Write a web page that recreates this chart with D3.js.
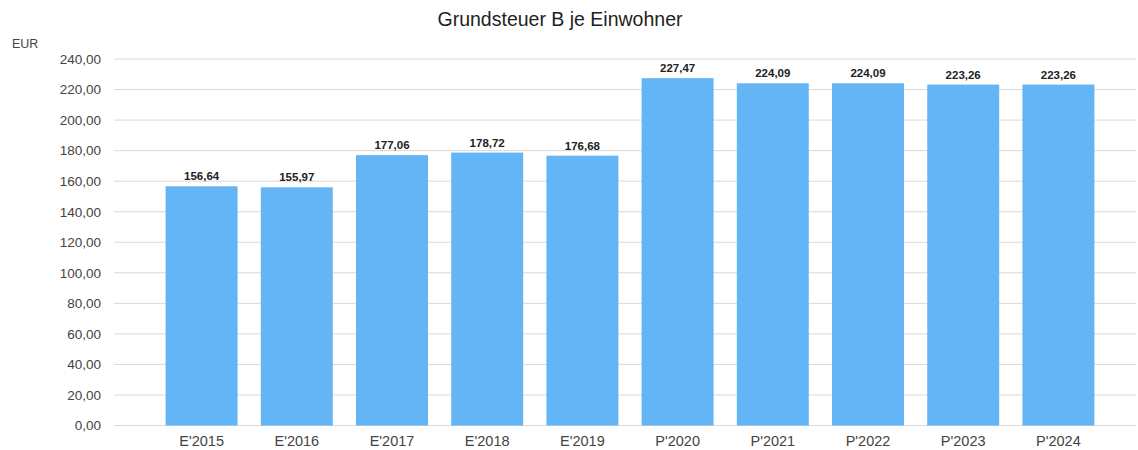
<!DOCTYPE html>
<html>
<head>
<meta charset="utf-8">
<script src="https://cdn.jsdelivr.net/npm/d3@7"></script>
<style>
  body { margin: 0; background: #fff; }
  svg { display: block; font-family: "Liberation Sans", Arial, sans-serif; }
</style>
</head>
<body>
<svg id="chart" width="1138" height="450"></svg>
<script>
const categories = ["E'2015", "E'2016", "E'2017", "E'2018", "E'2019", "P'2020", "P'2021", "P'2022", "P'2023", "P'2024"];
const values = [156.64, 155.97, 177.06, 178.72, 176.68, 227.47, 224.09, 224.09, 223.26, 223.26];
const yTicks = [0, 20, 40, 60, 80, 100, 120, 140, 160, 180, 200, 220, 240];

const gridLeft = 114, gridRight = 1136;
const bandLeft = 154, bandRight = 1106;
const plotTop = 59, plotBottom = 425.5;

const fmt = v => d3.format(".2f")(v).replace(".", ",");

const svg = d3.select("#chart");

const x = d3.scaleBand()
    .domain(categories)
    .range([bandLeft, bandRight])
    .paddingInner(0.244)
    .paddingOuter(0.122);

const y = d3.scaleLinear()
    .domain([0, 240])
    .range([plotBottom, plotTop]);

// gridlines
svg.append("g")
    .selectAll("line")
    .data(yTicks)
    .join("line")
    .attr("x1", gridLeft)
    .attr("x2", gridRight)
    .attr("y1", d => y(d))
    .attr("y2", d => y(d))
    .attr("stroke", "#d9d9d9")
    .attr("stroke-width", 1);

// y labels
const yAxis = d3.axisLeft(y).tickValues(yTicks).tickFormat(fmt).tickSize(0).tickPadding(0);
const gy = svg.append("g")
    .attr("transform", `translate(${gridLeft - 13},0)`)
    .call(yAxis);
gy.select(".domain").remove();
gy.selectAll("text")
    .attr("fill", "#444")
    .style("font-size", "13.5px");

// bars
svg.append("g")
    .selectAll("rect")
    .data(values)
    .join("rect")
    .attr("x", (d, i) => x(categories[i]))
    .attr("width", x.bandwidth())
    .attr("y", d => y(d))
    .attr("height", d => y(0) - y(d))
    .attr("fill", "#64b5f6");

// value labels
svg.append("g")
    .selectAll("text")
    .data(values)
    .join("text")
    .attr("x", (d, i) => x(categories[i]) + x.bandwidth() / 2)
    .attr("y", d => y(d) - 6)
    .attr("text-anchor", "middle")
    .attr("font-size", "11.5px")
    .attr("font-weight", "bold")
    .attr("fill", "#222")
    .text(d => fmt(d));

// x labels
const xAxis = d3.axisBottom(x).tickSize(0).tickPadding(0);
const gx = svg.append("g")
    .attr("transform", `translate(0,${plotBottom + 20})`)
    .call(xAxis);
gx.select(".domain").remove();
gx.selectAll("text")
    .attr("fill", "#444")
    .attr("dy", "0")
    .style("font-size", "14.5px");

// title
svg.append("text")
    .attr("x", 560)
    .attr("y", 26)
    .attr("text-anchor", "middle")
    .attr("font-size", "19.5px")
    .attr("fill", "#222")
    .text("Grundsteuer B je Einwohner");

svg.append("text")
    .attr("x", 12)
    .attr("y", 48)
    .attr("font-size", "12.5px")
    .attr("fill", "#444")
    .text("EUR");
</script>
</body>
</html>
